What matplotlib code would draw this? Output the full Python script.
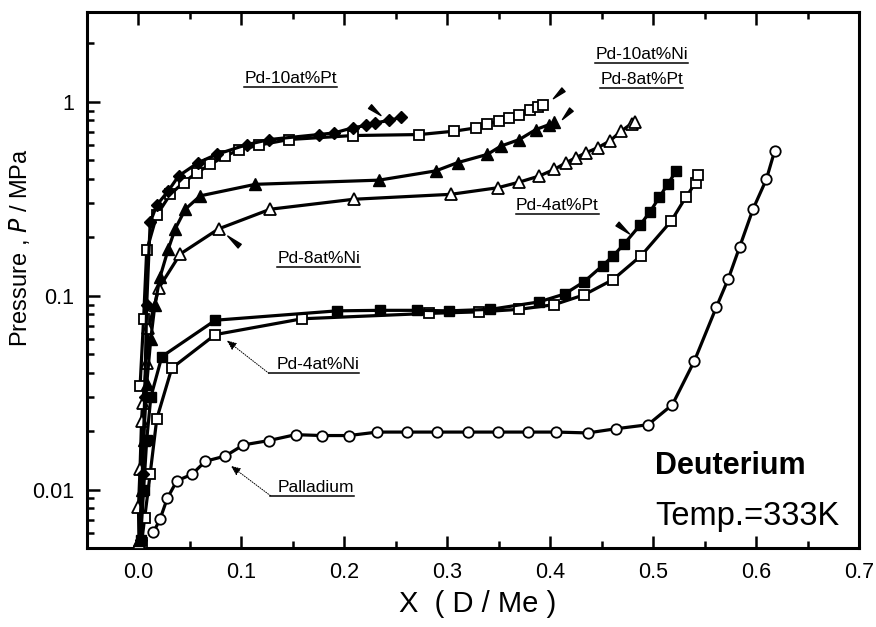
import numpy as np
import matplotlib
matplotlib.use("Agg")
import matplotlib.pyplot as plt
from matplotlib.ticker import MultipleLocator, FormatStrFormatter, FuncFormatter, LogLocator
from matplotlib.lines import Line2D

plt.rcParams['font.family'] = ['Liberation Sans', 'DejaVu Sans']

# P-C isotherms, deuterium at 333 K
x_pt10 = [0.002, 0.004, 0.006, 0.008, 0.0114, 0.0178, 0.029, 0.039, 0.058, 0.076, 0.105, 0.127,
          0.175, 0.19, 0.208, 0.221, 0.23, 0.243, 0.255]
p_pt10 = [0.0055, 0.012, 0.03, 0.09, 0.239, 0.293, 0.347, 0.414, 0.485, 0.535, 0.60, 0.638,
          0.677, 0.69, 0.733, 0.754, 0.777, 0.80, 0.83]

x_ni10 = [0.0016, 0.005, 0.008, 0.0178, 0.0309, 0.0438, 0.0568, 0.0698, 0.0844, 0.0974, 0.117, 0.146,
          0.208, 0.273, 0.307, 0.328, 0.339, 0.3505, 0.36, 0.37, 0.38, 0.388, 0.393]
p_ni10 = [0.0344, 0.076, 0.171, 0.26, 0.333, 0.383, 0.431, 0.475, 0.525, 0.563, 0.597, 0.638,
          0.669, 0.677, 0.705, 0.733, 0.771, 0.793, 0.825, 0.858, 0.902, 0.94, 0.966]

x_pt8 = [0.001, 0.003, 0.005, 0.008, 0.012, 0.016, 0.021, 0.029, 0.0357, 0.0455, 0.06, 0.1136,
         0.2337, 0.289, 0.31, 0.339, 0.352, 0.37, 0.386, 0.399, 0.404]
p_pt8 = [0.0055, 0.01, 0.018, 0.035, 0.06, 0.09, 0.125, 0.174, 0.221, 0.279, 0.327, 0.375,
         0.394, 0.44, 0.485, 0.535, 0.59, 0.638, 0.718, 0.762, 0.783]

x_ni8 = [0.0005, 0.0, 0.0015, 0.003, 0.004, 0.008, 0.0097, 0.02, 0.0406, 0.0779, 0.128, 0.209,
         0.3035, 0.349, 0.37, 0.3895, 0.404, 0.4155, 0.425, 0.435, 0.446, 0.4577, 0.469, 0.479, 0.482]
p_ni8 = [0.0053, 0.0081, 0.0127, 0.0225, 0.0279, 0.0448, 0.068, 0.11, 0.164, 0.221, 0.279, 0.314,
         0.333, 0.36, 0.385, 0.414, 0.448, 0.485, 0.515, 0.546, 0.579, 0.626, 0.705, 0.771, 0.783]

x_pt4 = [0.002, 0.005, 0.008, 0.012, 0.0227, 0.0747, 0.193, 0.235, 0.271, 0.302, 0.342, 0.389,
         0.414, 0.433, 0.451, 0.461, 0.472, 0.487, 0.4966, 0.506, 0.514, 0.5226]
p_pt4 = [0.0055, 0.01, 0.018, 0.03, 0.0485, 0.0747, 0.0835, 0.084, 0.084, 0.0835, 0.085, 0.0928,
         0.102, 0.118, 0.143, 0.16, 0.185, 0.23, 0.269, 0.321, 0.375, 0.44]

x_ni4 = [0.003, 0.006, 0.0114, 0.0178, 0.0324, 0.0747, 0.159, 0.282, 0.331, 0.37, 0.404, 0.433,
         0.461, 0.4885, 0.5177, 0.5316, 0.5414, 0.5436]
p_ni4 = [0.0053, 0.00713, 0.0121, 0.0232, 0.0423, 0.063, 0.076, 0.081, 0.0825, 0.085, 0.0899, 0.101,
         0.121, 0.161, 0.243, 0.321, 0.383, 0.418]

x_pd = [0.0146, 0.021, 0.028, 0.0373, 0.052, 0.065, 0.0844, 0.102, 0.1266, 0.1526, 0.178, 0.2045,
        0.232, 0.261, 0.29, 0.3197, 0.349, 0.378, 0.406, 0.4365, 0.464, 0.495, 0.5187, 0.54,
        0.5615, 0.573, 0.584, 0.597, 0.610, 0.618]
p_pd = [0.00603, 0.00705, 0.00902, 0.0111, 0.012, 0.014, 0.0149, 0.017, 0.0179, 0.0192, 0.019, 0.019,
        0.0198, 0.0198, 0.0198, 0.0198, 0.0198, 0.0198, 0.0198, 0.0196, 0.0206, 0.0216, 0.0274, 0.046,
        0.0875, 0.122, 0.178, 0.279, 0.398, 0.556]

fig = plt.figure(figsize=(8.76, 6.27), dpi=100)
ax = fig.add_axes([87 / 876, 1 - 548 / 627, 772 / 876, 536 / 627])

lw = 2.3
ax.plot(x_pd, p_pd, '-o', color='k', lw=lw, ms=7.5, mfc='white', mec='k', mew=1.3, zorder=3)
ax.plot(x_ni4, p_ni4, '-s', color='k', lw=lw, ms=7.5, mfc='white', mec='k', mew=1.3, zorder=3)
ax.plot(x_pt4, p_pt4, '-s', color='k', lw=lw, ms=7.5, mfc='k', mec='k', zorder=4)
ax.plot(x_ni8, p_ni8, '-^', color='k', lw=lw, ms=8.5, mfc='white', mec='k', mew=1.3, zorder=3)
ax.plot(x_pt8, p_pt8, '-^', color='k', lw=lw, ms=8.5, mfc='k', mec='k', zorder=4)
ax.plot(x_ni10, p_ni10, '-s', color='k', lw=lw, ms=7.5, mfc='white', mec='k', mew=1.3, zorder=3)
ax.plot(x_pt10, p_pt10, '-D', color='k', lw=lw, ms=6.5, mfc='k', mec='k', zorder=4)

ax.set_yscale('log')
ax.set_xlim(-0.05, 0.7)
ax.set_ylim(0.005, 2.9)

ax.xaxis.set_major_locator(MultipleLocator(0.1))
ax.xaxis.set_minor_locator(MultipleLocator(0.05))
ax.xaxis.set_major_formatter(FormatStrFormatter('%.1f'))
ax.yaxis.set_major_locator(LogLocator(base=10))
ax.yaxis.set_minor_locator(LogLocator(base=10, subs=np.arange(2, 10)))
ax.yaxis.set_major_formatter(FuncFormatter(lambda v, _: f'{v:g}'))
ax.yaxis.set_minor_formatter(FuncFormatter(lambda v, _: ''))

ax.tick_params(which='both', direction='in', top=True, right=False, width=1.8, labelsize=15.5)
ax.tick_params(which='major', length=9)
ax.tick_params(which='minor', length=5)
ax.tick_params(axis='x', pad=10)
ax.tick_params(axis='y', pad=9)
for s in ax.spines.values():
    s.set_linewidth(2.2)

fig.text(478 / 876, 1 - 604 / 627, 'X  ( D / Me )', ha='center', va='center', fontsize=21)
fig.text(20 / 876, 1 - 248 / 627, 'Pressure , $\\mathit{P}$ / MPa', rotation=90,
         ha='center', va='center', fontsize=17)

ax.text(0.502, 0.0133, 'Deuterium', fontsize=22, fontweight='bold', ha='left', va='center')
ax.text(0.502, 0.00728, 'Temp.=333K', fontsize=23.5, ha='left', va='center')

# curve labels (underlined)
labels = [
    ('Pd-10at%Pt', 0.1477, 1.323, None),
    ('Pd-8at%Ni', 0.175, 0.155, None),
    ('Pd-10at%Ni', 0.4888, 1.742, None),
    ('Pd-8at%Pt', 0.4888, 1.297, None),
    ('Pd-4at%Pt', 0.407, 0.29, None),
    ('Pd-4at%Ni', 0.1743, 0.0443, (0.1266, 0.0398, 0.0857, 0.0588)),
    ('Palladium', 0.1723, 0.0102, (0.1282, 0.00931, 0.0896, 0.01327)),
]
texts = []
for name, tx, ty, lead in labels:
    t = ax.text(tx, ty, name, fontsize=12.5, ha='center', va='center')
    texts.append((t, lead))
    if lead is not None:
        ax.annotate('', xy=(lead[2], lead[3]), xytext=(lead[0], lead[1]),
                    arrowprops=dict(arrowstyle='-|>,head_length=0.6,head_width=0.25',
                                    color='k', lw=0.7, linestyle=(0, (1, 1.5)),
                                    shrinkA=0, shrinkB=0))

# small wedges marking the curve ends
wedges = [
    ((0.225, 0.943), (0.2356, 0.848)),
    ((0.4129, 1.152), (0.4031, 1.036)),
    ((0.4206, 0.910), (0.4119, 0.809)),
    ((0.0983, 0.180), (0.0867, 0.203)),
    ((0.4654, 0.234), (0.4771, 0.208)),
]
for tail, tip in wedges:
    ax.annotate('', xy=tip, xytext=tail,
                arrowprops=dict(arrowstyle='wedge,tail_width=0.35', color='k',
                                shrinkA=0, shrinkB=0))

fig.canvas.draw()
renderer = fig.canvas.get_renderer()
inv = fig.transFigure.inverted()
for t, lead in texts:
    bb = t.get_window_extent(renderer)
    y = bb.y0 - 1
    x0 = bb.x0
    if lead is not None:
        x0 = ax.transData.transform((lead[0], lead[1]))[0]
    (fx0, fy), (fx1, _) = inv.transform([(x0, y), (bb.x1, y)])
    fig.add_artist(Line2D([fx0, fx1], [fy, fy], color='k', lw=1.1))

fig.savefig('out.png', dpi=100)
